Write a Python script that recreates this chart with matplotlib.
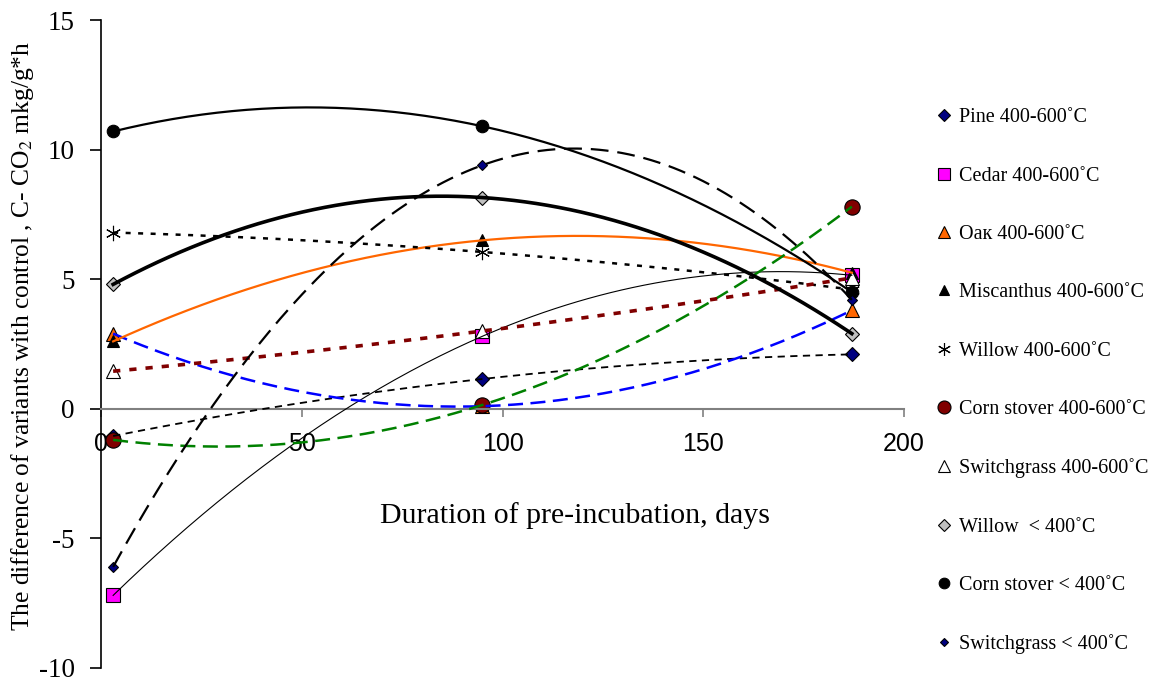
import numpy as np
import matplotlib.pyplot as plt
from matplotlib.lines import Line2D

plt.rcParams['font.family'] = 'Liberation Serif'
plt.rcParams['mathtext.fontset'] = 'stix'
plt.rcParams['axes.unicode_minus'] = False

# days of pre-incubation
days = [3, 95, 187]

# difference with control, C-CO2 mkg/g*h
pine_hot = [-1.05, 1.15, 2.1]
cedar_hot = [-7.2, 2.8, 5.15]
oak_hot = [2.9, 0.1, 3.8]
miscanthus_hot = [2.6, 6.5, 5.25]
willow_hot = [6.8, 6.05, 4.6]
corn_hot = [-1.2, 0.15, 7.8]
switch_hot = [1.45, 3.0, 5.05]
willow_low = [4.8, 8.15, 2.9]
corn_low = [10.7, 10.9, 4.5]
switch_low = [-6.1, 9.4, 4.2]

labels = ['Pine 400-600˚C', 'Cedar 400-600˚C', 'Oaк 400-600˚C',
          'Miscanthus 400-600˚C', 'Willow 400-600˚C', 'Corn stover 400-600˚C',
          'Switchgrass 400-600˚C', 'Willow  < 400˚C', 'Corn stover < 400˚C',
          'Switchgrass < 400˚C']
series = [pine_hot, cedar_hot, oak_hot, miscanthus_hot, willow_hot, corn_hot,
          switch_hot, willow_low, corn_low, switch_low]

# marker: (shape, face, size), trendline: (color, width, dashes)
markers = [('D', '#000080', 7), ('s', '#FF00FF', 10), ('^', '#FF6600', 10),
           ('^', 'black', 9), ((6, 2, 0), 'black', 11), ('o', '#800000', 11),
           ('^', 'white', 10), ('D', '#C0C0C0', 7), ('o', 'black', 9),
           ('D', '#000080', 5)]
trends = [('black', 1.3, (4, 3)), ('black', 0.8, None), ('blue', 1.8, (6, 3)),
          ('#FF6600', 1.6, None), ('black', 1.8, (2, 3)), ('green', 1.8, (6, 3)),
          ('#800000', 2.6, (2, 2.5)), ('black', 2.6, None), ('black', 1.6, None),
          ('black', 1.6, (8, 4))]

fig = plt.figure(figsize=(11.62, 6.83), dpi=100)
ax = fig.add_axes([0.087, 0.022, 0.691, 0.9487])

handles = []
for vals, (m, fc, ms) in zip(series, markers):
    ec = fc if m == (6, 2, 0) else 'black'
    ax.plot(days, vals, linestyle='none', marker=m, markerfacecolor=fc,
            markeredgecolor=ec, markersize=ms, markeredgewidth=0.8, zorder=2,
            clip_on=False)
    handles.append(Line2D([], [], linestyle='none', marker=m, markerfacecolor=fc,
                          markeredgecolor=ec, markersize=ms * 0.85,
                          markeredgewidth=0.8))

# polynomial (order 2) trendlines
xs = np.linspace(days[0], days[-1], 200)
for vals, (c, lw, dash) in zip(series, trends):
    coef = np.polyfit(days, vals, 2)
    line, = ax.plot(xs, np.polyval(coef, xs), color=c, linewidth=lw, zorder=3)
    if dash is not None:
        line.set_dashes(dash)

ax.set_xlim(0, 200)
ax.set_ylim(-10, 15)
ax.set_xticks([0, 50, 100, 150, 200])
ax.set_yticks([-10, -5, 0, 5, 10, 15])

ax.spines['top'].set_visible(False)
ax.spines['right'].set_visible(False)
ax.spines['bottom'].set_position(('data', 0))
ax.spines['bottom'].set_color('#808080')
ax.spines['bottom'].set_linewidth(1.5)
ax.spines['left'].set_linewidth(1.2)

ax.tick_params(axis='x', direction='out', length=6, width=1.2, color='#808080',
               pad=11, labelsize=18)
for t in ax.get_xticklabels():
    t.set_fontfamily('Liberation Sans')
ax.tick_params(axis='y', direction='out', length=8, width=1.2, pad=11, labelsize=19.5)

ax.set_xlabel('Duration of pre-incubation, days', fontsize=21.5, labelpad=33, x=0.59)
ax.set_ylabel('The difference of variants with control , C- CO$_2$ mkg/g*h',
              fontsize=18.4, labelpad=2, y=0.512)

fig.legend(handles, labels, loc='upper left', bbox_to_anchor=(0.79, 0.868),
           frameon=False, fontsize=14.5, handlelength=0.8, handletextpad=0.35,
           labelspacing=1.95)

plt.savefig('out.png', dpi=100)
